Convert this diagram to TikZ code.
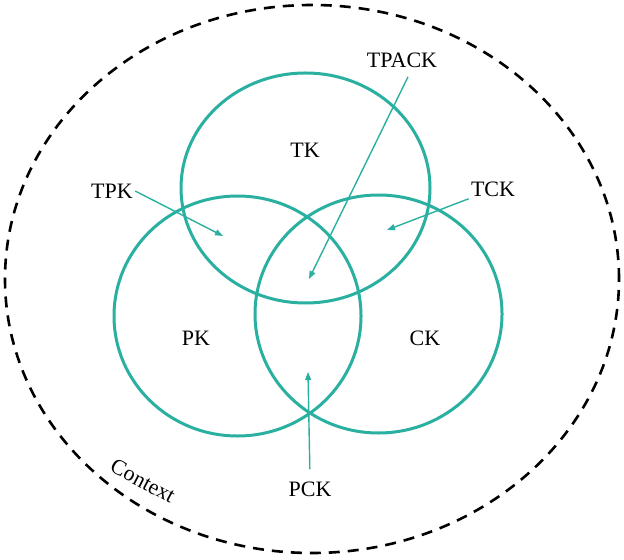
\documentclass[tikz,border=0pt]{standalone}
\usepackage{fontspec}
\setmainfont{Liberation Serif}
\usetikzlibrary{arrows.meta,positioning,shapes.geometric}
\definecolor{cteal}{HTML}{2AB0A0}
\tikzset{
  setn/.style={ellipse, draw=cteal, line width=1.5pt, inner sep=0pt},
  ctxn/.style={ellipse, draw=black, line width=1.3pt, dash pattern=on 5.5pt off 4pt, inner sep=0pt},
  lbl/.style={font=\fontsize{11}{13}\selectfont, inner sep=1pt},
  pre/.style={-{Triangle[length=4pt, width=3pt]}, draw=cteal, line width=0.7pt},
}
\begin{document}
\begin{tikzpicture}[x=0.5pt, y=-0.5pt]
\useasboundingbox (0,0) rectangle (624,560);
% outer context
\node[ctxn, minimum width=307pt, minimum height=274pt] (ctx) at (312,279) {};
\node[lbl, rotate=-28] (ctxlbl) at (143,481) {Context};
% the three sets
\node[setn, minimum width=124.5pt, minimum height=115pt] (tk) at (305.5,188) {};
\node[setn, minimum width=123.5pt, minimum height=120pt] (pk) at (237.5,316) {};
\node[setn, minimum width=123.5pt, minimum height=119pt] (ck) at (378.5,314) {};
\node[lbl] (tklbl) at (305,150) {TK};
\node[lbl] (pklbl) at (196,338) {PK};
\node[lbl] (cklbl) at (425,338) {CK};
% overlap labels
\node[lbl] (tpk) at (112,191) {TPK};
\node[lbl] (tck) at (493,189) {TCK};
\node[lbl] (tpack) at (402,60) {TPACK};
\node[lbl] (pck) at (310,489) {PCK};
\coordinate (tpkto) at (223,236);
\coordinate (tckto) at (387,230);
\coordinate (tpackto) at (309,279);
\coordinate (pckto) at (308,372);
\draw[pre] (tpk.east) -- (tpkto);
\draw[pre] (tck.south west) -- (tckto);
\draw[pre] (tpack.south) ++(6,7) -- (tpackto);
\draw[pre, shorten <=5pt] (pck.north) -- (pckto);
\end{tikzpicture}
\end{document}
